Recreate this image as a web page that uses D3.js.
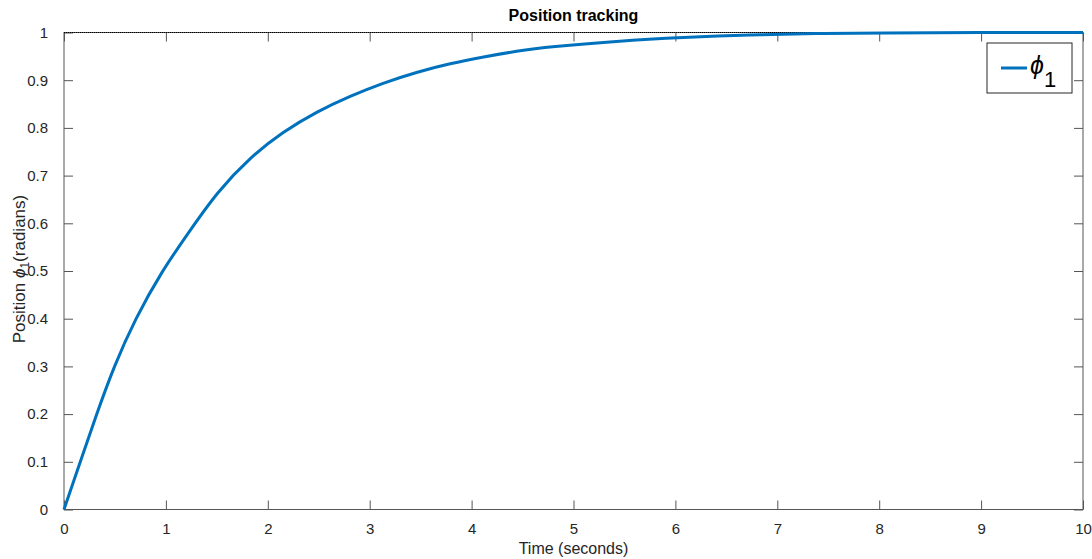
<!DOCTYPE html>
<html>
<head>
<meta charset="utf-8">
<script src="https://cdn.jsdelivr.net/npm/d3@7"></script>
<style>
  body { margin: 0; background: #fff; }
  text { font-family: "Liberation Sans", Arial, sans-serif; }
</style>
</head>
<body>
<div id="chart"></div>
<script>
// time (s) and position (rad)
var timeValues = [0, 0.16, 0.32, 0.49, 0.70, 0.96, 1.24, 1.5, 1.83, 2.15, 2.48, 2.81, 3.13, 3.46, 3.79, 4.12, 4.44, 4.77, 5.42, 6.08, 6.73, 7.39, 8, 9, 10];
var positionValues = [0, 0.1, 0.2, 0.3, 0.4, 0.5, 0.586, 0.665, 0.739, 0.792, 0.834, 0.867, 0.894, 0.917, 0.935, 0.949, 0.961, 0.970, 0.982, 0.990, 0.995, 0.998, 0.999, 1.0, 1.0];
var referenceValue = 1;
var xTicks = [0, 1, 2, 3, 4, 5, 6, 7, 8, 9, 10];
var yTicks = [0, 0.1, 0.2, 0.3, 0.4, 0.5, 0.6, 0.7, 0.8, 0.9, 1];

var margin = { top: 32.5, right: 9, bottom: 49.5, left: 64 },
    width = 1092 - margin.left - margin.right,
    height = 559 - margin.top - margin.bottom,
    tickLen = 9,
    axisColor = "#555",
    textColor = "#262626";

var data = timeValues.map(function(t, i) { return { t: t, v: positionValues[i] }; });

var x = d3.scaleLinear().domain([0, 10]).range([0, width]);
var y = d3.scaleLinear().domain([0, 1]).range([height, 0]);

var svg = d3.select("#chart")
  .append("svg")
    .attr("width", 1092)
    .attr("height", 559)
  .append("g")
    .attr("transform", "translate(" + margin.left + "," + margin.top + ")");

// box
svg.append("rect")
    .attr("width", width)
    .attr("height", height)
    .attr("fill", "none")
    .attr("stroke", axisColor)
    .attr("stroke-width", 1);

// axes (bottom/left with labels, top/right ticks only)
function styleAxis(g) {
  g.select(".domain").remove();
  g.selectAll(".tick line").attr("stroke", axisColor);
  g.selectAll(".tick text")
      .attr("fill", textColor)
      .style("font-size", "15px");
}

svg.append("g")
    .attr("transform", "translate(0," + height + ")")
    .call(d3.axisBottom(x).tickValues(xTicks).tickSizeInner(-tickLen).tickSizeOuter(0).tickPadding(14).tickFormat(d3.format("d")))
    .call(styleAxis);

svg.append("g")
    .call(d3.axisTop(x).tickValues(xTicks).tickSizeInner(-tickLen).tickSizeOuter(0).tickFormat(""))
    .call(styleAxis);

svg.append("g")
    .call(d3.axisLeft(y).tickValues(yTicks).tickSizeInner(-tickLen).tickSizeOuter(0).tickPadding(16).tickFormat(function(d) { return d3.format("~g")(d); }))
    .call(styleAxis);

svg.append("g")
    .attr("transform", "translate(" + width + ",0)")
    .call(d3.axisRight(y).tickValues(yTicks).tickSizeInner(-tickLen).tickSizeOuter(0).tickFormat(""))
    .call(styleAxis);

// reference line (dotted)
svg.append("line")
    .attr("x1", x(0))
    .attr("x2", x(10))
    .attr("y1", y(referenceValue))
    .attr("y2", y(referenceValue))
    .attr("stroke", "#000")
    .attr("stroke-width", 1)
    .attr("stroke-dasharray", "1,1");

// response line
svg.append("path")
    .datum(data)
    .attr("fill", "none")
    .attr("stroke", "#0072BD")
    .attr("stroke-width", 3)
    .attr("d", d3.line()
      .x(function(d) { return x(d.t); })
      .y(function(d) { return y(d.v); })
      .curve(d3.curveBasis));

// title
svg.append("text")
    .attr("x", width / 2)
    .attr("y", -12)
    .attr("text-anchor", "middle")
    .style("font-size", "16px")
    .style("font-weight", "bold")
    .attr("fill", "#000")
    .text("Position tracking");

// x label
svg.append("text")
    .attr("x", width / 2)
    .attr("y", height + 44)
    .attr("text-anchor", "middle")
    .style("font-size", "16px")
    .attr("fill", textColor)
    .text("Time (seconds)");

// y label
var ylab = svg.append("text")
    .attr("transform", "translate(" + (25 - margin.left) + "," + (height / 2 - 2) + ") rotate(-90)")
    .attr("text-anchor", "middle")
    .style("font-size", "17px")
    .attr("fill", textColor);
ylab.append("tspan").text("Position ");
ylab.append("tspan").style("font-style", "italic").text("\u03D5");
ylab.append("tspan").attr("dy", 4).style("font-size", "12px").text("1");
ylab.append("tspan").attr("dy", -4).text("(radians)");

// legend
var legend = svg.append("g")
    .attr("transform", "translate(" + (987 - margin.left) + "," + (43 - margin.top) + ")");

legend.append("rect")
    .attr("width", 85)
    .attr("height", 50)
    .attr("fill", "#fff")
    .attr("stroke", textColor)
    .attr("stroke-width", 1);

legend.append("line")
    .attr("x1", 14)
    .attr("x2", 40)
    .attr("y1", 25)
    .attr("y2", 25)
    .attr("stroke", "#0072BD")
    .attr("stroke-width", 3);

var ltext = legend.append("text")
    .attr("x", 43)
    .attr("y", 31)
    .attr("fill", "#000")
    .style("font-size", "25px");
ltext.append("tspan").style("font-style", "italic").text("\u03D5");
ltext.append("tspan").attr("dy", 13).style("font-size", "22px").text("1");
</script>
</body>
</html>
